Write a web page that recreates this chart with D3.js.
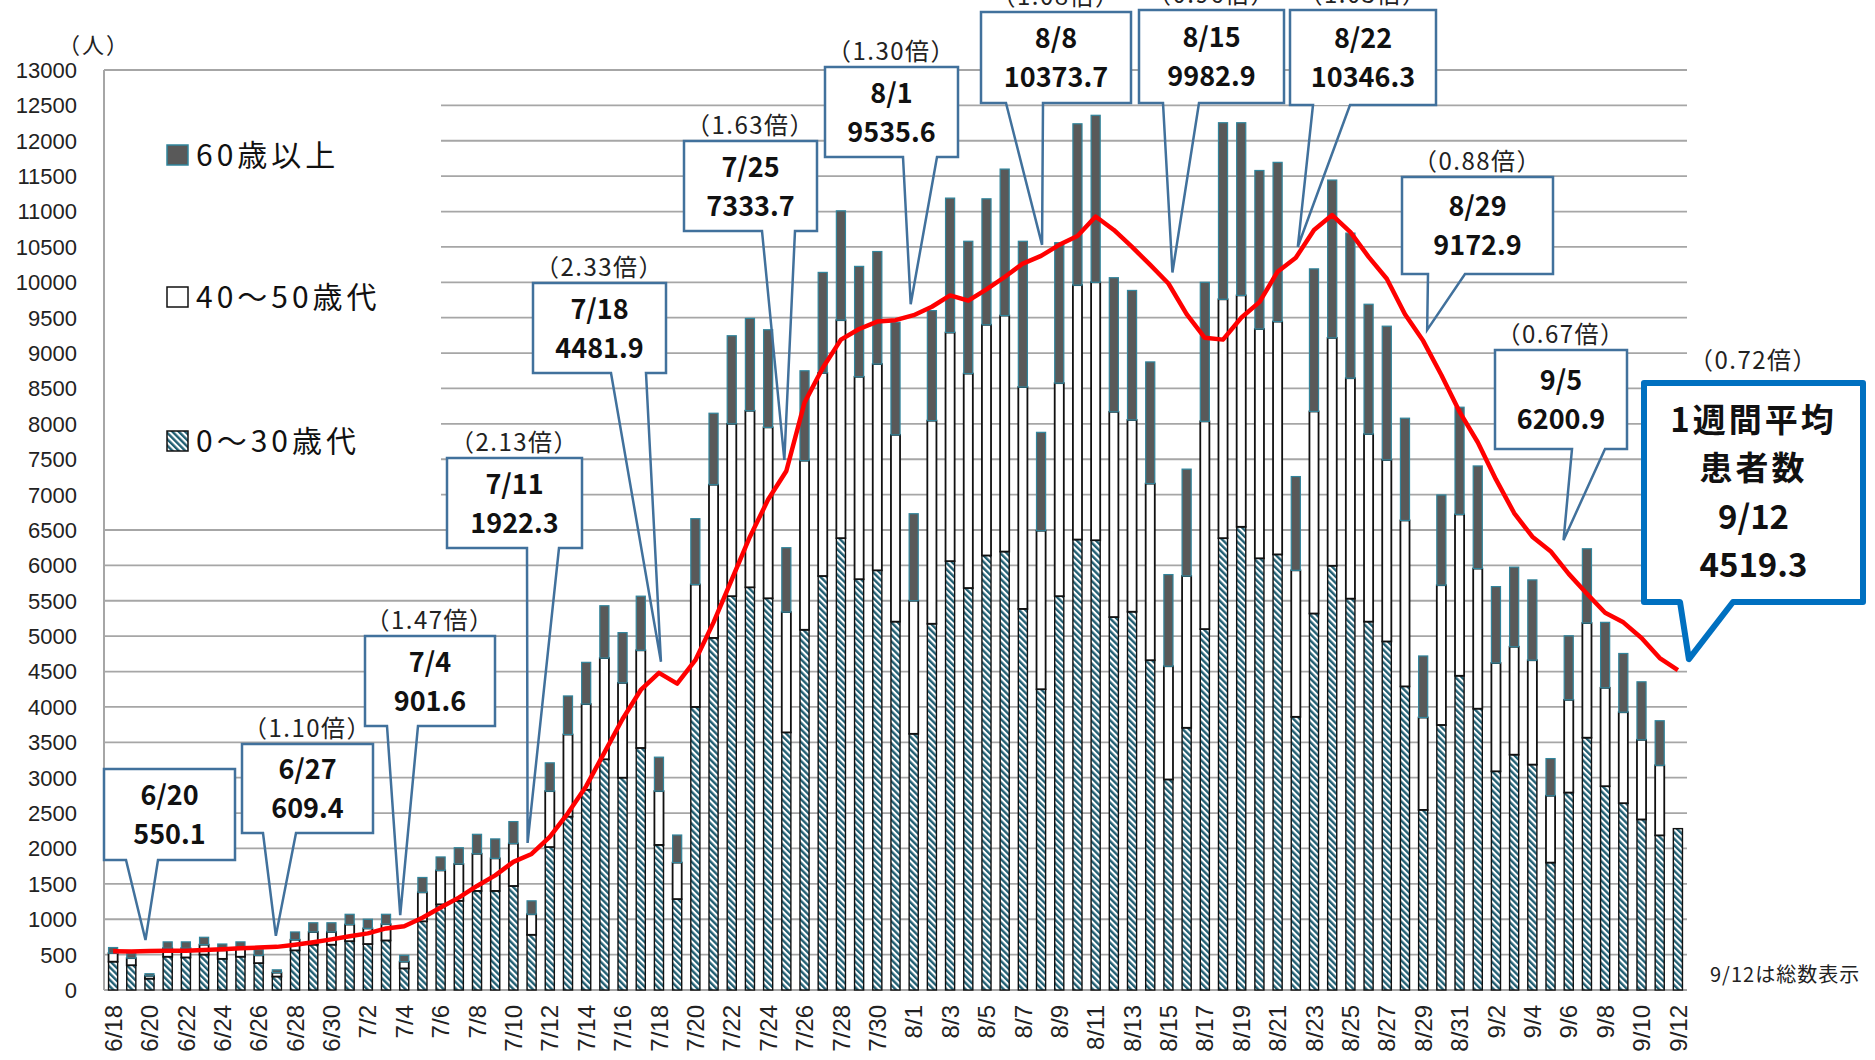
<!DOCTYPE html>
<html>
<head>
<meta charset="utf-8">
<script src="https://cdn.jsdelivr.net/npm/d3@7"></script>
<style>
  body { margin: 0; background: #fff; }
  svg { display: block; }
</style>
</head>
<body>
<div id="viz"></div>
<script>
// dates (6/18 - 9/12)
const dates = [
  '6/18','6/19','6/20','6/21','6/22','6/23','6/24','6/25','6/26','6/27','6/28','6/29','6/30',
  '7/1','7/2','7/3','7/4','7/5','7/6','7/7','7/8','7/9','7/10','7/11','7/12','7/13','7/14','7/15','7/16',
  '7/17','7/18','7/19','7/20','7/21','7/22','7/23','7/24','7/25','7/26','7/27','7/28','7/29','7/30','7/31',
  '8/1','8/2','8/3','8/4','8/5','8/6','8/7','8/8','8/9','8/10','8/11','8/12','8/13','8/14','8/15','8/16',
  '8/17','8/18','8/19','8/20','8/21','8/22','8/23','8/24','8/25','8/26','8/27','8/28','8/29','8/30','8/31',
  '9/1','9/2','9/3','9/4','9/5','9/6','9/7','9/8','9/9','9/10','9/11','9/12'
];

// 0〜30歳代
const age0to30 = [
  400,350,160,470,460,500,440,470,380,190,560,640,640,
  690,650,700,305,970,1210,1260,1400,1400,1470,780,2020,2450,2830,3260,3000,
  3420,2050,1285,4000,4975,5565,5690,5535,3640,5090,5850,6385,5805,5930,5205,
  3620,5175,6060,5680,6140,6195,5385,4250,5565,6365,6355,5270,5345,4660,2975,3705,
  5100,6385,6545,6100,6155,3860,5320,5995,5530,5205,4925,4290,2545,3745,4440,
  3975,3090,3325,3185,1800,2790,3565,2880,2640,2410,2185,2280
];

// 40〜50歳代
const age40to50 = [
  120,100,40,120,130,140,120,120,110,55,150,180,180,
  235,220,230,95,410,480,520,525,460,600,290,790,1160,1210,1430,1340,
  1380,760,515,1730,2165,2435,2495,2415,1700,2390,2870,3080,2860,2915,2640,
  1880,2870,3230,3030,3260,3335,3135,2240,3010,3595,3645,2900,2710,2495,1600,2145,
  2935,3375,3270,3240,3290,2070,2855,3220,3115,2650,2565,2345,1305,1975,2280,
  1980,1530,1525,1475,945,1310,1620,1390,1285,1125,990,0
];

// 60歳以上
const age60plus = [
  80,65,30,90,90,105,90,90,80,40,110,130,130,
  145,130,140,90,210,190,230,275,275,310,190,400,545,590,740,710,
  765,480,390,930,1010,1245,1305,1380,910,1270,1420,1545,1560,1590,1590,
  1230,1555,1900,1870,1780,2070,2060,1390,1985,2280,2360,1895,1830,1720,1295,1510,
  1965,2495,2440,2240,2250,1325,2015,2230,2050,1835,1890,1445,870,1275,1515,
  1450,1080,1125,1135,525,905,1050,925,830,820,630,0
];

// 1週間平均患者数
const avg7 = [
  548,545,550.1,553,556,565,575,590,600,609.4,640,675,715,
  760,800,870,901.6,1020,1165,1305,1470,1620,1810,1922.3,2165,2500,2880,3355,3830,
  4240,4481.9,4330,4660,5195,5800,6405,6930,7333.7,8300,8790,9190,9340,9445,9465,
  9535.6,9655,9815,9740,9900,10075,10265,10373.7,10530,10655,10930,10740,10500,10245,9982.9,9550,
  9215,9190,9500,9720,10150,10346.3,10740,10950,10710,10360,10050,9550,9172.9,8690,8170,
  7740,7215,6740,6405,6200.9,5880,5600,5330,5195,4975,4690,4519.3
];

const yTicks = [0,500,1000,1500,2000,2500,3000,3500,4000,4500,5000,5500,6000,6500,
  7000,7500,8000,8500,9000,9500,10000,10500,11000,11500,12000,12500,13000];

// callout labels
const calloutDates = ['6/20','6/27','7/4','7/11','7/18','7/25','8/1','8/8','8/15','8/22','8/29','9/5'];
const calloutValues = ['550.1','609.4','901.6','1922.3','4481.9','7333.7','9535.6','10373.7','9982.9','10346.3','9172.9','6200.9'];
const calloutRatios = ['','（1.10倍）','（1.47倍）','（2.13倍）','（2.33倍）','（1.63倍）','（1.30倍）','（1.08倍）','（0.96倍）','（1.03倍）','（0.88倍）','（0.67倍）'];
const lastDate = '9/12';
const lastValue = '4519.3';
const lastRatio = '（0.72倍）';

// callout box layout: x0, y0, x1, y1, pointer base left/right, tip x offset
const calloutBoxes = [
  [104,769,235,860,126,158,-4],
  [242,744,373,833,263,296,-1],
  [365,636,495,726,387,418,-4],
  [447,458,582,548,527,559,-4],
  [533,283,666,373,611,646,2],
  [684,141,817,231,762,795,-2],
  [825,67,958,157,903,937,-3],
  [981,12,1131,103,1006,1043,1],
  [1139,10,1284,103,1163,1199,4],
  [1290,10,1436,105,1313,1350,2],
  [1402,177,1553,274,1428,1465,4],
  [1495,350,1627,449,1572,1605,13]
];
const bigBox = [1644,383,1863,602,1680,1733,11];

const width = 1875, height = 1060;
const plotLeft = 104, plotRight = 1687, plotTop = 70, plotBottom = 990;
const jp = '"Noto Sans CJK JP", "Noto Sans", sans-serif';

const svg = d3.select('#viz').append('svg')
  .attr('width', width).attr('height', height)
  .style('font-family', jp);

const defs = svg.append('defs');
const pat = defs.append('pattern')
  .attr('id', 'hatch')
  .attr('patternUnits', 'userSpaceOnUse')
  .attr('width', 4.5).attr('height', 4.5)
  .attr('patternTransform', 'rotate(-45)');
pat.append('rect').attr('width', 4.5).attr('height', 4.5).attr('fill', '#fff');
pat.append('line').attr('x1', 1.2).attr('y1', 0).attr('x2', 1.2).attr('y2', 4.5)
  .attr('stroke', '#215F73').attr('stroke-width', 2.4);

const x = d3.scaleBand().domain(dates).range([plotLeft, plotRight]).paddingInner(0.5).paddingOuter(0.25);
const y = d3.scaleLinear().domain([0, 13000]).range([plotBottom, plotTop]);
const cx = d => x(d) + x.bandwidth() / 2;

// gridlines
svg.append('g').selectAll('line')
  .data(yTicks.filter(t => t > 0))
  .join('line')
  .attr('x1', plotLeft).attr('x2', plotRight)
  .attr('y1', d => y(d)).attr('y2', d => y(d))
  .attr('stroke', '#A6A6A6').attr('stroke-width', 1.8);

// legend background covers gridlines
svg.append('rect').attr('x', plotLeft + 1).attr('y', plotTop + 2)
  .attr('width', 336).attr('height', 443).attr('fill', '#fff');

// axes lines
svg.append('line').attr('x1', plotLeft).attr('x2', plotLeft).attr('y1', plotTop).attr('y2', plotBottom)
  .attr('stroke', '#A6A6A6').attr('stroke-width', 2);
svg.append('line').attr('x1', plotLeft).attr('x2', plotRight).attr('y1', plotBottom).attr('y2', plotBottom)
  .attr('stroke', '#A6A6A6').attr('stroke-width', 2);

// y tick labels
svg.append('g').selectAll('text')
  .data(yTicks)
  .join('text')
  .attr('x', 77).attr('y', d => y(d)).attr('dy', '0.36em')
  .attr('text-anchor', 'end')
  .style('font-family', '"Liberation Sans", Arial, sans-serif')
  .style('font-size', '22px').attr('fill', '#222')
  .text(d => d);

svg.append('text').attr('x', 94).attr('y', 45).attr('dy', '0.35em')
  .attr('text-anchor', 'middle').style('font-size', '22px').style('letter-spacing', '2px')
  .attr('fill', '#222')
  .text('（人）');

// x labels (every other day)
svg.append('g').selectAll('text')
  .data(dates.filter((d, i) => i % 2 === 0))
  .join('text')
  .attr('transform', d => `translate(${cx(d)},1005) rotate(-90)`)
  .attr('dy', '0.36em')
  .attr('text-anchor', 'end')
  .style('font-family', '"Liberation Sans", Arial, sans-serif')
  .style('font-size', '24px').attr('fill', '#222')
  .text(d => d);

// stacked bars
const rows = dates.map((d, i) => ({ date: d, young: age0to30[i], mid: age40to50[i], old: age60plus[i] }));
const stack = d3.stack().keys(['young', 'mid', 'old'])(rows);
const segStyle = {
  young: { fill: 'url(#hatch)', stroke: '#111', sw: 1.4 },
  mid: { fill: '#fff', stroke: '#111', sw: 1.8 },
  old: { fill: '#595959', stroke: '#31859C', sw: 1.2 }
};
stack.forEach(layer => {
  const st = segStyle[layer.key];
  svg.append('g').selectAll('rect')
    .data(layer.filter(s => s[1] - s[0] > 0))
    .join('rect')
    .attr('x', s => x(s.data.date))
    .attr('y', s => y(s[1]))
    .attr('width', x.bandwidth())
    .attr('height', s => y(s[0]) - y(s[1]))
    .attr('fill', st.fill)
    .attr('stroke', st.stroke)
    .attr('stroke-width', st.sw);
});

// 7-day average line
svg.append('path')
  .datum(avg7)
  .attr('d', d3.line().x((d, i) => cx(dates[i])).y(d => y(d)))
  .attr('fill', 'none').attr('stroke', '#FF0000').attr('stroke-width', 4.5)
  .attr('stroke-linejoin', 'round');

// legend
const legend = [
  { label: '60歳以上', fill: '#595959', stroke: '#31859C', y: 155 },
  { label: '40〜50歳代', fill: '#fff', stroke: '#111', y: 297 },
  { label: '0〜30歳代', fill: 'url(#hatch)', stroke: '#111', y: 441 }
];
legend.forEach(l => {
  svg.append('rect').attr('x', 167).attr('y', l.y - 10).attr('width', 21).attr('height', 20)
    .attr('fill', l.fill).attr('stroke', l.stroke).attr('stroke-width', 1.5);
  svg.append('text').attr('x', 196).attr('y', l.y).attr('dy', '0.36em')
    .style('font-size', '30px').style('letter-spacing', '4px')
    .attr('fill', '#111').text(l.label);
});

// callouts
function drawCallout(b, date, avgVal, lines, opt) {
  const [x0, y0, x1, y1, bl, br, dx] = b;
  const tx = cx(date) + dx;
  const ty = y(avgVal) - 11;
  svg.append('rect').attr('x', x0).attr('y', y0).attr('width', x1 - x0).attr('height', y1 - y0)
    .attr('fill', '#fff');
  if (opt.fillWedge) {
    svg.append('path').attr('d', `M${bl},${y1 - 2} L${tx},${ty} L${br},${y1 - 2} Z`).attr('fill', '#fff');
  }
  svg.append('path')
    .attr('d', `M${x0},${y0} H${x1} V${y1} H${br} L${tx},${ty} L${bl},${y1} H${x0} Z`)
    .attr('fill', 'none').attr('stroke', opt.stroke).attr('stroke-width', opt.sw)
    .attr('stroke-linejoin', opt.join || 'miter');
  const mid = (x0 + x1) / 2;
  lines.forEach((t, k) => {
    svg.append('text').attr('x', mid).attr('y', opt.lineY[k]).attr('dy', '0.36em')
      .attr('text-anchor', 'middle').style('font-size', opt.fs).style('font-weight', 700)
      .style('letter-spacing', /[^\x00-\x7F]/.test(t) ? (opt.cjkSpacing || '0px') : '0px')
      .attr('fill', '#111').text(t);
  });
  if (opt.ratio) {
    svg.append('text').attr('x', mid).attr('y', y0 - opt.ratioGap).attr('dy', '0.36em')
      .attr('text-anchor', 'middle').style('font-size', '24px').style('letter-spacing', '1.5px')
      .attr('fill', '#222')
      .text(opt.ratio);
  }
}

calloutDates.forEach((d, i) => {
  const b = calloutBoxes[i];
  const cy = (b[1] + b[3]) / 2;
  drawCallout(b, d, avg7[dates.indexOf(d)], [d, calloutValues[i]], {
    stroke: '#41719C', sw: 2.5, fs: '27px',
    lineY: [cy - 19, cy + 20],
    ratio: calloutRatios[i], ratioGap: 16
  });
});

drawCallout(bigBox, lastDate, avg7[dates.indexOf(lastDate)],
  ['1週間平均', '患者数', lastDate, lastValue], {
    stroke: '#0070C0', sw: 6, fs: '33px', join: 'round', fillWedge: true, cjkSpacing: '3px',
    lineY: [420, 468, 517, 565],
    ratio: lastRatio, ratioGap: 23
  });

svg.append('text').attr('x', 1710).attr('y', 975).attr('dy', '0.36em')
  .style('font-size', '20px').style('letter-spacing', '1px')
  .attr('fill', '#222').text('9/12は総数表示');
</script>
</body>
</html>
